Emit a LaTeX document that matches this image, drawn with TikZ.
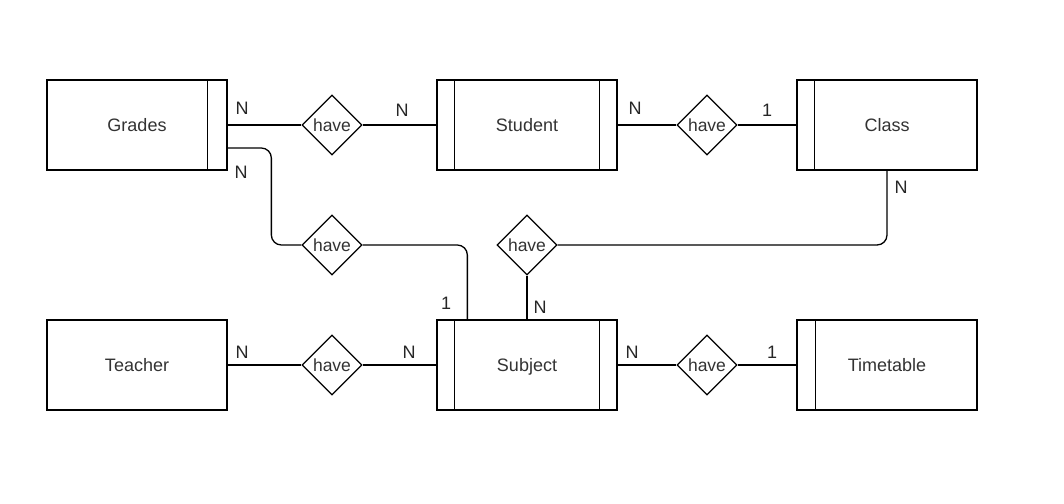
\documentclass[tikz,border=0pt]{standalone}
\usepackage{fontspec}
\setmainfont{Liberation Sans}
\usetikzlibrary{shapes.geometric}
\begin{document}
\begin{tikzpicture}

		\tikzstyle{entity} = [rectangle, draw, line width=1.3pt, minimum width=180pt, minimum height=90pt, inner sep=0pt, text height=13pt, text depth=0pt, text=black!80, font=\fontsize{18}{21}\selectfont]
		
		\tikzstyle{relation} = [diamond, draw, line width=1.3pt, minimum width=60pt, minimum height=60pt, inner sep=0pt, text=black!80, font=\fontsize{17.5}{21}\selectfont]
		
		\tikzstyle{links} = [line width=1.3pt]
		
		\tikzstyle{card} = [inner sep=0pt, text=black!85, font=\fontsize{18}{21}\selectfont]
		
		\fill[white] (0,0) rectangle (1064pt,-503pt);
		\path[use as bounding box] (0,0) rectangle (1064pt,-503pt);
		
		\node[entity] at (137pt, -125pt) (grades) {Grades};
		\node[entity] at (527pt, -125pt) (student) {Student};
		\node[entity] at (887pt, -125pt) (class) {Class};
		
		\node[entity] at (137pt, -365pt) (teacher) {Teacher};
		\node[entity] at (527pt, -365pt) (subject) {Subject};
		\node[entity] at (887pt, -365pt) (timetable) {Timetable};
		
		% bars of the weak entities
		\draw[links] ([xshift=-20pt]grades.north east) -- ([xshift=-20pt]grades.south east);
		\draw[links] ([xshift=18pt]student.north west) -- ([xshift=18pt]student.south west);
		\draw[links] ([xshift=-18pt]student.north east) -- ([xshift=-18pt]student.south east);
		\draw[links] ([xshift=18pt]class.north west) -- ([xshift=18pt]class.south west);
		\draw[links] ([xshift=18pt]subject.north west) -- ([xshift=18pt]subject.south west);
		\draw[links] ([xshift=-18pt]subject.north east) -- ([xshift=-18pt]subject.south east);
		\draw[links] ([xshift=19pt]timetable.north west) -- ([xshift=19pt]timetable.south west);
		
		\node[relation] at (332pt, -125pt) (have1) {have};
		\node[relation] at (707pt, -125pt) (have2) {have};
		\node[relation] at (332pt, -245pt) (have3) {have};
		\node[relation] at (527pt, -245pt) (have4) {have};
		\node[relation] at (332pt, -365pt) (have5) {have};
		\node[relation] at (707pt, -365pt) (have6) {have};
		
		\draw[links] (grades) -- (have1);
		\draw[links] (have1) -- (student);
		\draw[links] (student) -- (have2);
		\draw[links] (have2) -- (class);
		
		\draw[links] ([yshift=-23pt]grades.east) [rounded corners=10pt] -| ([xshift=-30pt]have3.west) [sharp corners] -- (have3.west);
		\draw[links, rounded corners=10pt] (have3.east) -| ([xshift=31pt]subject.north west);
		\draw[links, rounded corners=10pt] (class.south) |- (have4.east);
		\draw[links] (have4) -- (subject);
		
		\draw[links] (teacher) -- (have5);
		\draw[links] (have5) -- (subject);
		\draw[links] (subject) -- (have6);
		\draw[links] (have6) -- (timetable);
		
		% cardinalities
		\node[card] at (242pt, -108pt) (cgrades1) {N};
		\node[card] at (402pt, -110pt) (cstudent1) {N};
		\node[card] at (635pt, -108pt) (cstudent2) {N};
		\node[card] at (767pt, -110pt) (cclass1) {1};
		\node[card] at (241pt, -172pt) (cgrades2) {N};
		\node[card] at (446pt, -303pt) (csubject1) {1};
		\node[card] at (901pt, -187pt) (cclass2) {N};
		\node[card] at (540pt, -307pt) (csubject2) {N};
		\node[card] at (242pt, -352pt) (cteacher) {N};
		\node[card] at (409pt, -352pt) (csubject3) {N};
		\node[card] at (632pt, -352pt) (csubject4) {N};
		\node[card] at (772pt, -352pt) (ctimetable) {1};
	\end{tikzpicture}
\end{document}
